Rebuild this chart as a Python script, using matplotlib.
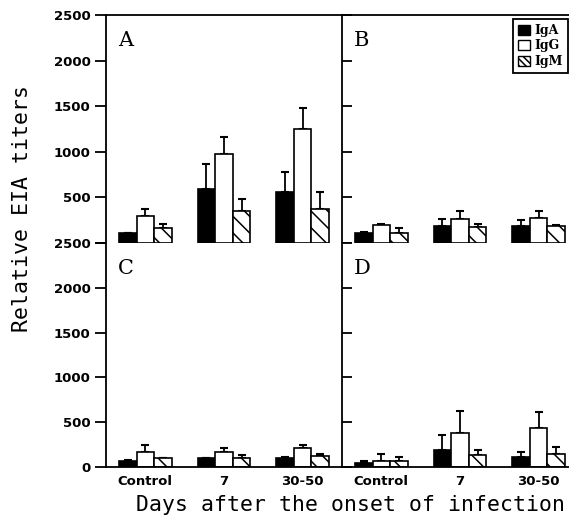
import numpy as np
import matplotlib.pyplot as plt
from matplotlib.patches import Patch

groups = ['Control', '7', '30-50']
isotypes = ['IgA', 'IgG', 'IgM']

# means and upper SD for each panel
a_iga = [105, 590, 560]
a_iga_sd = [10, 275, 220]
a_igg = [295, 975, 1250]
a_igg_sd = [75, 185, 235]
a_igm = [160, 350, 375]
a_igm_sd = [45, 135, 180]

b_iga = [115, 190, 185]
b_iga_sd = [10, 70, 65]
b_igg = [195, 265, 275]
b_igg_sd = [15, 90, 80]
b_igm = [115, 180, 185]
b_igm_sd = [45, 25, 15]

c_iga = [70, 95, 100]
c_iga_sd = [10, 10, 10]
c_igg = [165, 170, 210]
c_igg_sd = [85, 45, 40]
c_igm = [95, 100, 125]
c_igm_sd = [10, 35, 15]

d_iga = [45, 190, 110]
d_iga_sd = [25, 170, 60]
d_igg = [70, 380, 430]
d_igg_sd = [80, 245, 185]
d_igm = [70, 135, 150]
d_igm_sd = [45, 60, 70]

yticks = [0, 500, 1000, 1500, 2000, 2500]

W, H = 569, 519
fig = plt.figure(figsize=(W / 100, H / 100), dpi=100)

axw = 236 / W
axA = fig.add_axes([106 / W, (H - 243) / H, axw, 228 / H])
axB = fig.add_axes([342 / W, (H - 243) / H, axw, 228 / H])
axC = fig.add_axes([106 / W, (H - 467) / H, axw, 224 / H])
axD = fig.add_axes([342 / W, (H - 467) / H, axw, 224 / H])

panels = [
    (axA, 'A', [a_iga, a_igg, a_igm], [a_iga_sd, a_igg_sd, a_igm_sd]),
    (axB, 'B', [b_iga, b_igg, b_igm], [b_iga_sd, b_igg_sd, b_igm_sd]),
    (axC, 'C', [c_iga, c_igg, c_igm], [c_iga_sd, c_igg_sd, c_igm_sd]),
    (axD, 'D', [d_iga, d_igg, d_igm], [d_iga_sd, d_igg_sd, d_igm_sd]),
]

x = np.arange(len(groups))
w = 0.223
faces = ['black', 'white', 'white']
hatches = [None, None, '\\\\']

plt.rcParams['hatch.linewidth'] = 1.1

for ax, letter, vals, sds in panels:
    for i in range(3):
        ax.bar(x + (i - 1) * w, vals[i], w, color=faces[i], edgecolor='black',
               linewidth=1.2, hatch=hatches[i], zorder=2)
        ax.errorbar(x + (i - 1) * w, vals[i],
                    yerr=[np.zeros(3), sds[i]], fmt='none', ecolor='black',
                    elinewidth=1.3, capsize=3, capthick=1.5, zorder=1)
    ax.set_xlim(-0.5, 2.5)
    ax.set_ylim(0, 2500)
    ax.set_yticks(yticks)
    for s in ax.spines.values():
        s.set_linewidth(1.3)
    ax.spines['right'].set_visible(False)
    ax.text(0.05, 0.93, letter, transform=ax.transAxes, fontsize=15,
            family='DejaVu Serif', va='top', ha='left')
    ax.tick_params(axis='x', length=0)
    for lab in ax.get_yticklabels():
        lab.set_fontweight('bold')

for ax in [axA, axB]:
    ax.set_xticks([])
    ax.spines['bottom'].set_visible(False)

for ax in [axC, axD]:
    ax.spines['top'].set_visible(False)
    ax.set_xticks(x)
    ax.set_xticklabels(groups, fontsize=9.5, fontweight='bold')
    ax.tick_params(axis='x', pad=6)

for ax in [axA, axC]:
    ax.tick_params(axis='y', direction='out', length=8, width=1.3,
                   labelsize=9.5, pad=3)
for ax in [axB, axD]:
    ax.tick_params(axis='y', direction='in', length=7, width=1.3,
                   labelleft=False)

axA.set_yticklabels([''] + [str(t) for t in yticks[1:]], fontweight='bold')

handles = [Patch(facecolor='black', edgecolor='black'),
           Patch(facecolor='white', edgecolor='black'),
           Patch(facecolor='white', edgecolor='black', hatch='\\\\\\\\\\')]
leg = axB.legend(handles, isotypes, loc='upper right',
                 bbox_to_anchor=(568 / W, 1 - 19 / H),
                 bbox_transform=fig.transFigure, borderaxespad=0,
                 prop={'weight': 'bold', 'size': 9, 'family': 'DejaVu Serif'},
                 handlelength=0.9, handleheight=0.9, handletextpad=0.4,
                 labelspacing=0.2, borderpad=0.4, fancybox=False,
                 edgecolor='black', framealpha=1)
leg.get_frame().set_linewidth(1.3)

fig.text(22 / W, 1 - 209 / H, 'Relative EIA titers', rotation=90,
         fontsize=15.5, family='DejaVu Sans Mono', ha='center', va='center')
fig.text(351 / W, 1 - 505 / H, 'Days after the onset of infection',
         fontsize=15.5, family='DejaVu Sans Mono', ha='center', va='center')

plt.savefig('out.png', dpi=100)
